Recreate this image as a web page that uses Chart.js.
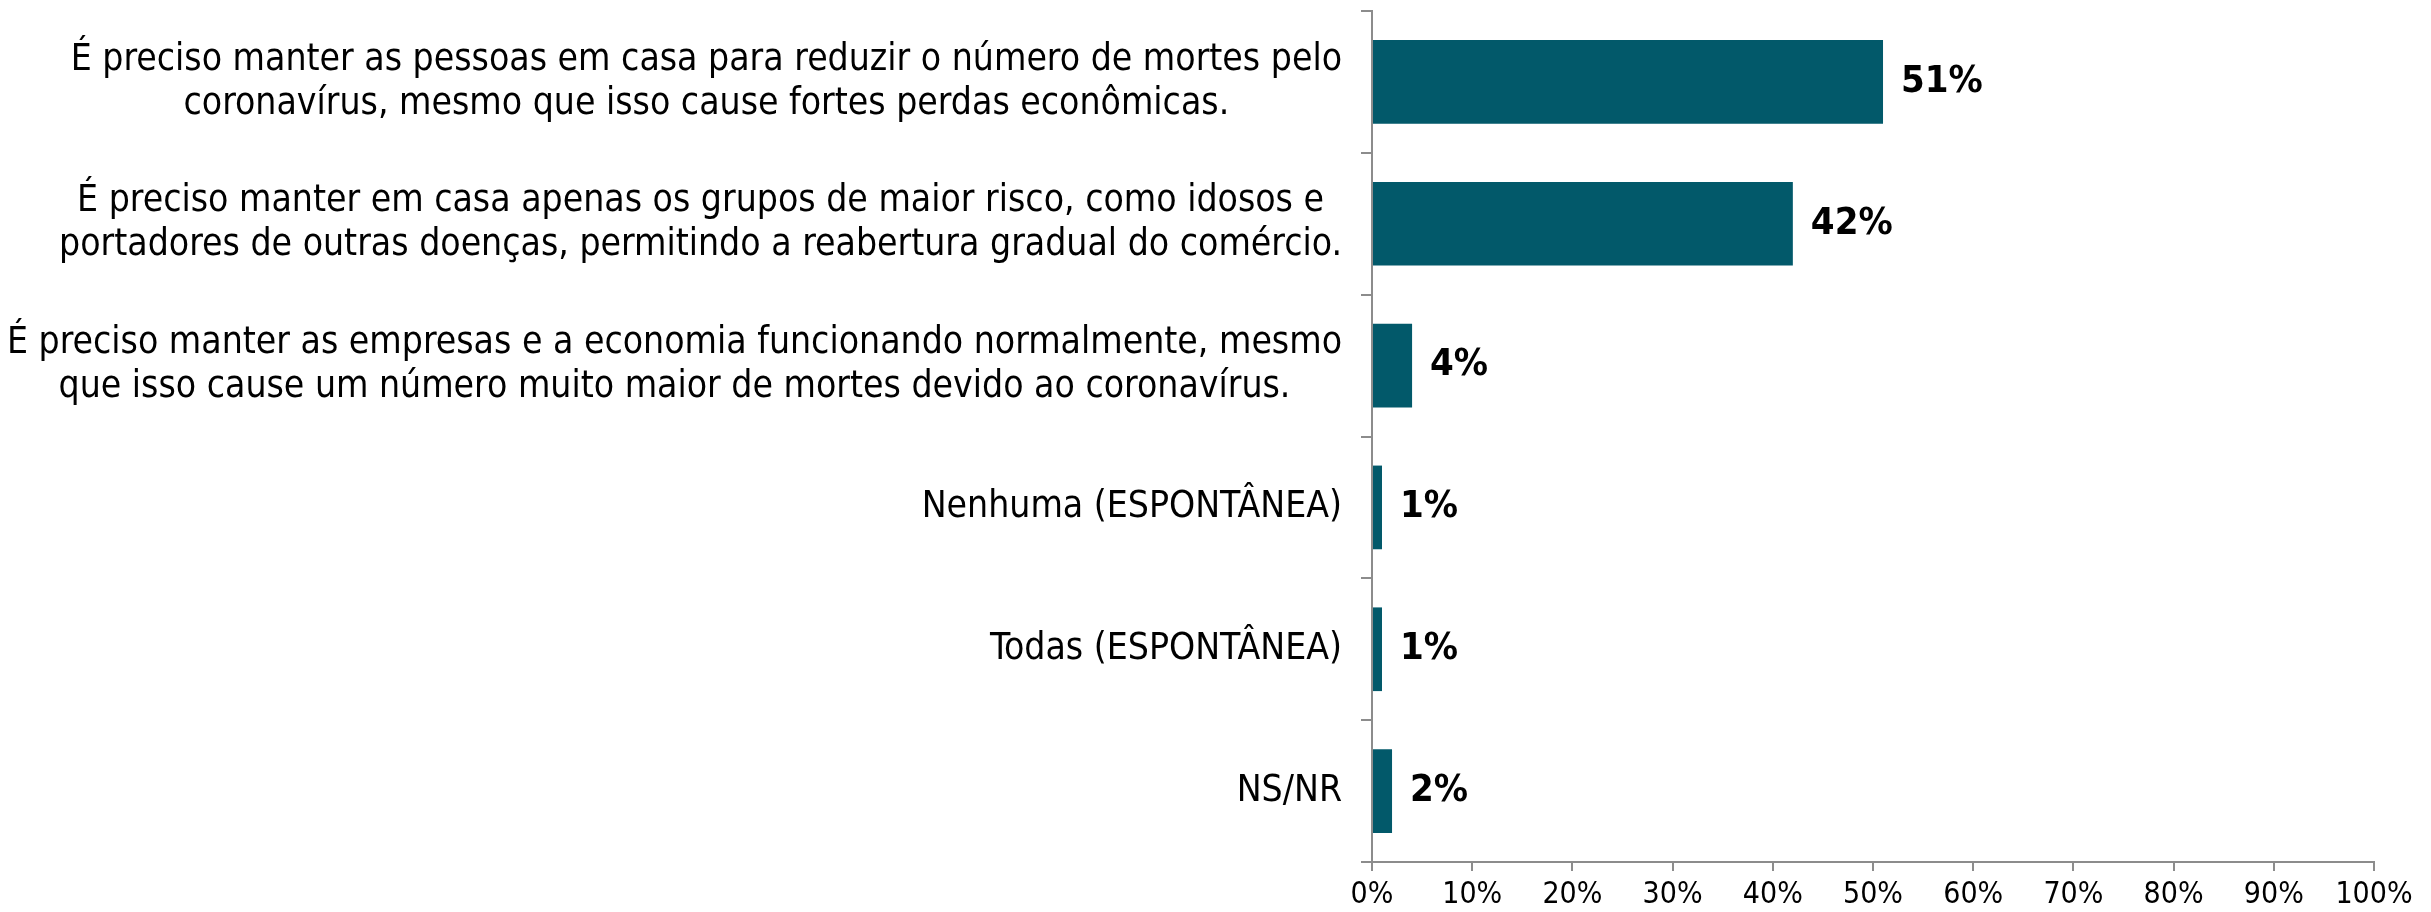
<!DOCTYPE html>
<html>
<head>
<meta charset="utf-8">
<script src="https://cdn.jsdelivr.net/npm/chart.js@4.4.1/dist/chart.umd.min.js"></script>
<style>
  html, body { margin: 0; padding: 0; background: #fff; }
</style>
</head>
<body>
<canvas id="chart" width="2431" height="912"></canvas>
<script>
  "use strict";

  // answer options, one array of lines per bar
  const categories = [
    ["É preciso manter as pessoas em casa para reduzir o número de mortes pelo",
     "coronavírus, mesmo que isso cause fortes perdas econômicas."],
    ["É preciso manter em casa apenas os grupos de maior risco, como idosos e",
     "portadores de outras doenças, permitindo a reabertura gradual do comércio."],
    ["É preciso manter as empresas e a economia funcionando normalmente, mesmo",
     "que isso cause um número muito maior de mortes devido ao coronavírus."],
    ["Nenhuma (ESPONTÂNEA)"],
    ["Todas (ESPONTÂNEA)"],
    ["NS/NR"],
  ];
  const values = [51, 42, 4, 1, 1, 2];
  const percentTicks = [0, 10, 20, 30, 40, 50, 60, 70, 80, 90, 100];

  const FONT = '"DejaVu Sans Condensed", "DejaVu Sans", sans-serif';
  const BAR_COLOR = "#02596A";
  const AXIS_COLOR = "#8c8c8c";

  // multi-line category labels: each block centred on itself, blocks right-aligned
  const categoryLabels = {
    id: "categoryLabels",
    afterDraw(chart) {
      const { ctx } = chart;
      const yScale = chart.scales.y;
      const right = yScale.right - 30;
      const lineHeight = 44;
      ctx.save();
      ctx.font = `37px ${FONT}`;
      ctx.fillStyle = "#000";
      ctx.textAlign = "center";
      ctx.textBaseline = "middle";
      categories.forEach((lines, i) => {
        const widest = Math.max(...lines.map((l) => ctx.measureText(l).width));
        const cx = right - widest / 2;
        const cy = yScale.getPixelForTick(i);
        lines.forEach((line, j) => {
          ctx.fillText(line, cx, cy + (j - (lines.length - 1) / 2) * lineHeight);
        });
      });
      ctx.restore();
    },
  };

  // bold value labels just past the end of each bar
  const valueLabels = {
    id: "valueLabels",
    afterDatasetsDraw(chart) {
      const { ctx } = chart;
      const meta = chart.getDatasetMeta(0);
      ctx.save();
      ctx.font = `bold 38px ${FONT}`;
      ctx.fillStyle = "#000";
      ctx.textAlign = "left";
      ctx.textBaseline = "middle";
      meta.data.forEach((bar, i) => {
        ctx.fillText(`${values[i]}%`, bar.x + 18, bar.y);
      });
      ctx.restore();
    },
  };

  new Chart(document.getElementById("chart"), {
    type: "bar",
    data: {
      labels: categories.map((c) => c.join(" ")),
      datasets: [
        {
          data: values,
          backgroundColor: BAR_COLOR,
          borderWidth: 0,
          categoryPercentage: 1,
          barPercentage: 0.59,
        },
      ],
    },
    options: {
      indexAxis: "y",
      responsive: false,
      animation: false,
      layout: { padding: { top: 11, right: 57, bottom: 0, left: 0 } },
      scales: {
        x: {
          min: 0,
          max: 100,
          afterBuildTicks: (scale) => {
            scale.ticks = percentTicks.map((v) => ({ value: v }));
          },
          afterFit: (scale) => {
            scale.height = 50;
          },
          ticks: {
            color: "#000",
            font: { family: FONT, size: 30 },
            padding: 6,
            maxRotation: 0,
            callback: (v) => `${v}%`,
          },
          grid: {
            drawOnChartArea: false,
            drawTicks: true,
            tickLength: 9,
            color: AXIS_COLOR,
            lineWidth: 2,
          },
          border: { display: true, color: AXIS_COLOR, width: 2 },
        },
        y: {
          afterFit: (scale) => {
            scale.width = 1372;
          },
          ticks: { display: false },
          grid: {
            offset: true,
            drawOnChartArea: false,
            drawTicks: true,
            tickLength: 11,
            color: AXIS_COLOR,
            lineWidth: 2,
          },
          border: { display: true, color: AXIS_COLOR, width: 2 },
        },
      },
      plugins: {
        legend: { display: false },
        tooltip: { enabled: false },
      },
    },
    plugins: [categoryLabels, valueLabels],
  });
</script>
</body>
</html>
